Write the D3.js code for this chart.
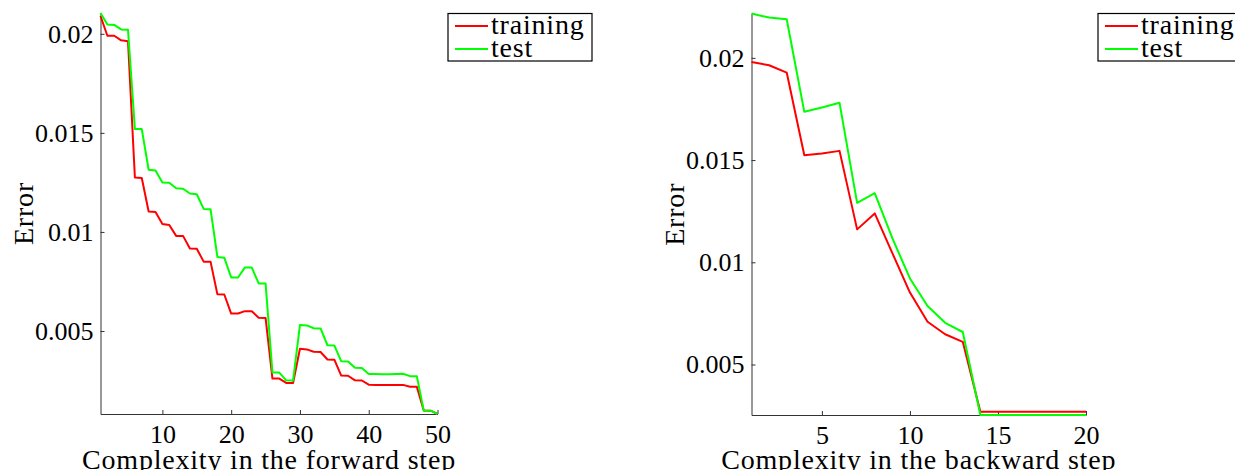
<!DOCTYPE html>
<html>
<head>
<meta charset="utf-8">
<script src="https://cdn.jsdelivr.net/npm/d3@7"></script>
<style>
  body { margin: 0; background: #fff; }
  svg { display: block; }
  .tick text, .lbl { font-family: "Liberation Serif", serif; fill: #000; }
</style>
</head>
<body>
<div id="chart"></div>
<script>
// forward step: complexity 1..50
const fwdSteps = d3.range(1, 51);
const fwdTraining = [
  0.0209, 0.0199, 0.0199, 0.01967, 0.01963, 0.01275, 0.01272, 0.01103, 0.0110, 0.0104,
  0.01035, 0.0098, 0.0098, 0.00916, 0.00915, 0.0085, 0.0085, 0.00685, 0.00684, 0.00588,
  0.00588, 0.0060, 0.0060, 0.00567, 0.00566, 0.0026, 0.0026, 0.00238, 0.00237, 0.0041,
  0.00407, 0.00395, 0.00394, 0.00356, 0.00355, 0.00275, 0.00274, 0.00251, 0.0025, 0.00229,
  0.00228, 0.00227, 0.00227, 0.00227, 0.00228, 0.00219, 0.00218, 0.00099, 0.00098, 0.00082
];
const fwdTest = [
  0.02105, 0.02047, 0.02045, 0.02022, 0.0202, 0.0152, 0.01519, 0.01314, 0.0131, 0.0125,
  0.01248, 0.0122, 0.01218, 0.01194, 0.0119, 0.01116, 0.01115, 0.00873, 0.0087, 0.0077,
  0.0077, 0.00821, 0.0082, 0.0074, 0.0074, 0.00291, 0.0029, 0.00251, 0.0025, 0.0053,
  0.00528, 0.00514, 0.00513, 0.00428, 0.00427, 0.00347, 0.00346, 0.00314, 0.00313, 0.00283,
  0.00283, 0.00282, 0.00282, 0.00283, 0.00284, 0.00272, 0.00271, 0.00099, 0.00098, 0.00081
];

// backward step: complexity 1..20
const bwdSteps = d3.range(1, 21);
const bwdTraining = [
  0.0198, 0.01964, 0.01928, 0.01524, 0.01532, 0.01545, 0.01161, 0.01239, 0.01045, 0.00852,
  0.00709, 0.00648, 0.00611, 0.00269, 0.00269, 0.00269, 0.00269, 0.00269, 0.00269, 0.00269
];
const bwdTest = [
  0.02217, 0.02197, 0.02189, 0.01736, 0.01757, 0.0178, 0.01291, 0.01338, 0.01118, 0.00921,
  0.00786, 0.00704, 0.00659, 0.00253, 0.00253, 0.00253, 0.00253, 0.00253, 0.00253, 0.00253
];

const seriesNames = ["training", "test"];
const seriesColors = ["#ff0000", "#00ff00"];

const errTicks = [0.005, 0.01, 0.015, 0.02];
const fwdTicks = [10, 20, 30, 40, 50];
const bwdTicks = [5, 10, 15, 20];

const svg = d3.select("#chart").append("svg")
    .attr("width", 1235)
    .attr("height", 470);

function drawPanel(opts) {
    const { steps, series, xTicks, xLabel, left, right, top, bottom, legendX } = opts;

    const xScale = d3.scaleLinear()
        .domain(d3.extent(steps))
        .range([left, right]);

    const yScale = d3.scaleLinear()
        .domain(d3.extent(series.flat()))
        .range([bottom, top]);

    const xAxis = d3.axisBottom(xScale)
        .tickValues(xTicks)
        .tickSizeInner(-4)
        .tickSizeOuter(0)
        .tickPadding(11)
        .tickFormat(d => d);

    const yAxis = d3.axisLeft(yScale)
        .tickValues(errTicks)
        .tickSizeInner(-4)
        .tickSizeOuter(0)
        .tickPadding(7)
        .tickFormat(d => String(d));

    const gx = svg.append("g")
        .attr("transform", `translate(0, ${bottom})`)
        .call(xAxis);
    const gy = svg.append("g")
        .attr("transform", `translate(${left}, 0)`)
        .call(yAxis);

    [gx, gy].forEach(g => {
        g.attr("font-family", null).attr("font-size", null);
        g.selectAll(".domain, .tick line").attr("stroke", "#333").attr("stroke-width", 1);
        g.selectAll(".tick text").style("font-size", "26px");
    });

    // axis titles (bottom one runs off the page edge, as in the original)
    svg.append("text")
        .attr("class", "lbl")
        .attr("x", (left + right) / 2)
        .attr("y", 469)
        .attr("text-anchor", "middle")
        .style("font-size", "28px")
        .style("letter-spacing", "0.8px")
        .text(xLabel);

    svg.append("text")
        .attr("class", "lbl")
        .attr("transform", `translate(${left - 68}, ${(top + bottom) / 2}) rotate(-90)`)
        .attr("text-anchor", "middle")
        .style("font-size", "28px")
        .style("letter-spacing", "0.8px")
        .text("Error");

    const line = d3.line()
        .x((d, i) => xScale(steps[i]))
        .y(d => yScale(d));

    series.forEach((vals, i) => {
        svg.append("path")
            .datum(vals)
            .attr("fill", "none")
            .attr("stroke", seriesColors[i])
            .attr("stroke-width", 2)
            .attr("stroke-linejoin", "round")
            .attr("d", line);
    });

    // legend
    const legend = svg.append("g")
        .attr("transform", `translate(${legendX}, 13.5)`);

    legend.append("rect")
        .attr("width", 144)
        .attr("height", 47.5)
        .attr("fill", "#fff")
        .attr("stroke", "#000")
        .attr("stroke-width", 1.2);

    seriesNames.forEach((name, i) => {
        const ly = 12.5 + i * 23;
        legend.append("line")
            .attr("x1", 7).attr("x2", 40)
            .attr("y1", ly).attr("y2", ly)
            .attr("stroke", seriesColors[i])
            .attr("stroke-width", 2);
        legend.append("text")
            .attr("class", "lbl")
            .attr("x", 43)
            .attr("y", ly + 8)
            .style("font-size", "28px")
            .style("letter-spacing", "0.8px")
            .text(name);
    });
}

drawPanel({
    steps: fwdSteps,
    series: [fwdTraining, fwdTest],
    xTicks: fwdTicks,
    xLabel: "Complexity in the forward step",
    left: 100.5, right: 437.5, top: 13, bottom: 414,
    legendX: 448
});

drawPanel({
    steps: bwdSteps,
    series: [bwdTraining, bwdTest],
    xTicks: bwdTicks,
    xLabel: "Complexity in the backward step",
    left: 751.5, right: 1086, top: 13.5, bottom: 415,
    legendX: 1098
});
</script>
</body>
</html>
